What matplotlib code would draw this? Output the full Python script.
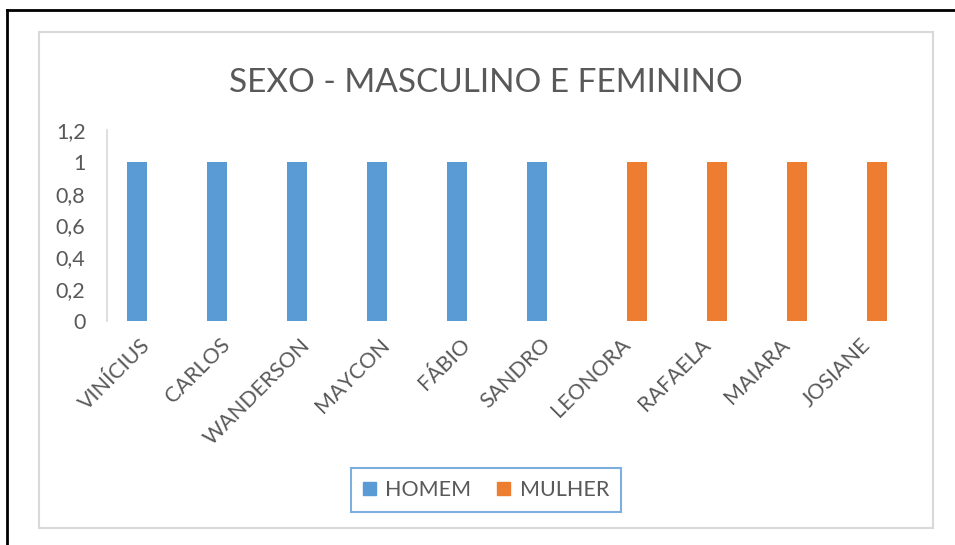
import numpy as np
import matplotlib
matplotlib.use('Agg')
from matplotlib import pyplot as plt
from matplotlib.patches import Rectangle, Patch
from matplotlib.lines import Line2D
from matplotlib.ticker import FuncFormatter

plt.rcParams['font.family'] = ['Lato', 'DejaVu Sans']

# dados
nomes = ['VINÍCIUS', 'CARLOS', 'WANDERSON', 'MAYCON', 'FÁBIO', 'SANDRO',
         'LEONORA', 'RAFAELA', 'MAIARA', 'JOSIANE']
homem = [1, 1, 1, 1, 1, 1, 0, 0, 0, 0]
mulher = [0, 0, 0, 0, 0, 0, 1, 1, 1, 1]
yticks = [0, 0.2, 0.4, 0.6, 0.8, 1, 1.2]

azul = '#5B9BD5'
laranja = '#ED7D31'
cinza_txt = '#595959'
cinza_linha = '#D9D9D9'

W, H = 955, 545
fig = plt.figure(figsize=(W / 100, H / 100), dpi=100)

# moldura do print (preta) e borda do gráfico (cinza)
fig.add_artist(Line2D([7 / W, 1], [1 - 10 / H, 1 - 10 / H], transform=fig.transFigure, color='black', lw=2))
fig.add_artist(Line2D([7 / W, 7 / W], [0, 1 - 10 / H], transform=fig.transFigure, color='black', lw=2))
fig.add_artist(Rectangle((39 / W, 1 - 528 / H), (933 - 39) / W, (528 - 32) / H, transform=fig.transFigure,
                         fill=False, edgecolor=cinza_linha, lw=1.5))

ax = fig.add_axes([107 / W, 1 - 321 / H, 800 / W, (321 - 130) / H])
x = np.arange(len(nomes))
w = 0.25
ax.bar(x - w / 2, homem, w, color=azul, lw=0, label='HOMEM')
ax.bar(x + w / 2, mulher, w, color=laranja, lw=0, label='MULHER')

ax.set_xlim(-0.5, len(nomes) - 0.5)
ax.set_ylim(0, 1.2)
ax.set_yticks(yticks)
ax.yaxis.set_major_formatter(FuncFormatter(lambda v, p: f'{v:g}'.replace('.', ',')))
ax.set_xticks(x)
ax.set_xticklabels(nomes, rotation=45, ha='right', va='center', rotation_mode='anchor')
ax.tick_params(axis='both', length=0, labelsize=15.5, colors=cinza_txt)
ax.tick_params(axis='y', pad=15.5)
ax.tick_params(axis='x', pad=15)
for s in ['top', 'right', 'bottom']:
    ax.spines[s].set_visible(False)
ax.spines['left'].set_color(cinza_linha)
ax.spines['left'].set_linewidth(1.2)

fig.text(486 / W, 1 - 92 / H, 'SEXO - MASCULINO E FEMININO', ha='center', va='baseline',
         fontsize=24, color=cinza_txt)

handles = [Patch(color=azul), Patch(color=laranja)]
leg = fig.legend(handles, ['HOMEM', 'MULHER'], loc='center', bbox_to_anchor=(486 / W, 1 - 490 / H),
                 ncol=2, fontsize=15.5, frameon=True, fancybox=False, handlelength=0.6, handleheight=0.6,
                 handletextpad=0.45, columnspacing=1.2, borderpad=0.55, borderaxespad=0,
                 labelcolor=cinza_txt)
leg.get_frame().set_edgecolor(azul)
leg.get_frame().set_linewidth(1.5)

fig.savefig('out.png', dpi=100)
